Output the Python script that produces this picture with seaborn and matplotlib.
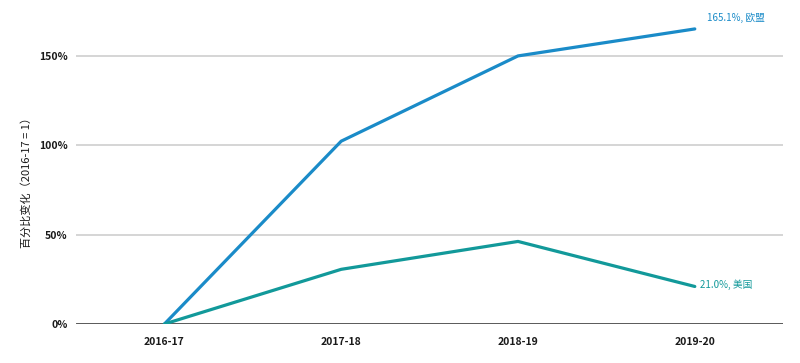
import numpy as np
import pandas as pd
import matplotlib.pyplot as plt
import seaborn as sns

# data (percent change vs 2016-17)
years = ['2016-17', '2017-18', '2018-19', '2019-20']
eu_values = [0.0, 102.3, 150.0, 165.1]
us_values = [0.0, 30.6, 46.2, 21.0]
series_names = ['欧盟', '美国']
y_ticks = [0, 50, 100, 150]

sns.set_style('white')
plt.rcParams['font.family'] = ['Noto Sans CJK SC', 'DejaVu Sans']

colors = {'欧盟': '#1a8bc8', '美国': '#12999a'}

df = pd.DataFrame({
    'year': years * 2,
    'x': list(range(len(years))) * 2,
    'value': eu_values + us_values,
    'region': [series_names[0]] * len(years) + [series_names[1]] * len(years),
})

fig = plt.figure(figsize=(8, 3.63), dpi=100)
ax = fig.add_axes([0.095, 0.1074, 0.884, 0.8651])

for y in y_ticks[1:]:
    ax.axhline(y, color='#d2d2d2', linewidth=1.3, zorder=0)
ax.axhline(0, color='#4a4a4a', linewidth=2, zorder=1)

sns.lineplot(data=df, x='x', y='value', hue='region', palette=colors,
             linewidth=2.3, legend=False, ax=ax, zorder=3)

ax.set_xlim(-0.5, 3.5)
ax.set_ylim(0, 175.7)
ax.set_xticks(range(len(years)))
ax.set_xticklabels(years)
ax.set_yticks(y_ticks)
ax.set_yticklabels([f'{v}%' for v in y_ticks])
ax.tick_params(axis='both', length=0, labelsize=7.5, colors='#1a1a1a')
ax.tick_params(axis='x', pad=9)
ax.tick_params(axis='y', pad=6)
for lbl in ax.get_xticklabels() + ax.get_yticklabels():
    lbl.set_fontweight('bold')
for s in ax.spines.values():
    s.set_visible(False)

ax.set_xlabel('')
ax.set_ylabel('百分比变化（2016-17 = 1）', fontsize=8, color='#1a1a1a')
ax.yaxis.set_label_coords(-0.062, 0.46)

# end labels
ax.annotate(f'{eu_values[-1]:.1f}%, {series_names[0]}', xy=(3, eu_values[-1]),
            xytext=(9, 8), textcoords='offset points', fontsize=7,
            color=colors['欧盟'], va='center', ha='left', annotation_clip=False)
ax.annotate(f'{us_values[-1]:.1f}%, {series_names[1]}', xy=(3, us_values[-1]),
            xytext=(4, 1), textcoords='offset points', fontsize=7,
            color=colors['美国'], va='center', ha='left', annotation_clip=False)

fig.savefig('out.png', dpi=100)
